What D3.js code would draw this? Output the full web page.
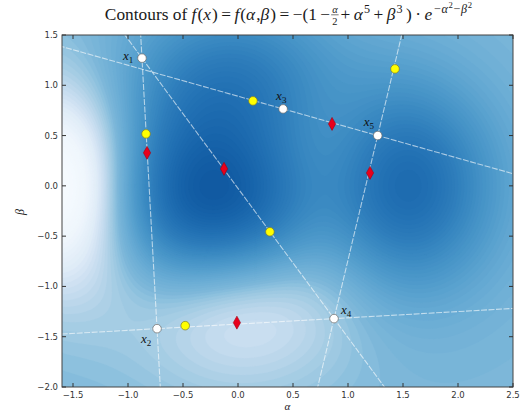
<!DOCTYPE html>
<html><head><meta charset="utf-8">
<script src="https://cdn.jsdelivr.net/npm/d3@7"></script>
<style>body{margin:0;background:#fff} text{white-space:pre}</style></head><body>
<svg id="c" width="524" height="414"></svg>
<script>
// ---- data ----
const xTicks = [-1.5, -1.0, -0.5, 0.0, 0.5, 1.0, 1.5, 2.0, 2.5];
const yTicks = [-2.0, -1.5, -1.0, -0.5, 0.0, 0.5, 1.0, 1.5];
const pointNames = ["1", "2", "3", "4", "5"];
const pointAlpha = [-0.873, -0.736, 0.41, 0.873, 1.27];
const pointBeta  = [1.27, -1.42, 0.765, -1.32, 0.50];
const yellowAlpha = [0.136, -0.836, 1.427, 0.29, -0.48];
const yellowBeta  = [0.845, 0.517, 1.163, -0.457, -1.39];
const redAlpha = [-0.827, -0.127, 0.855, 1.2, -0.01];
const redBeta  = [0.328, 0.169, 0.616, 0.129, -1.36];
const lineFrom = [0, 0, 1, 2, 3];
const lineTo   = [1, 3, 3, 4, 4];
const levelValues = [-1.05, -0.6, -0.28, 0.0, 0.15, 0.25, 0.35, 0.5, 0.7];
const levelShades = [0.84, 0.70, 0.58, 0.46, 0.33, 0.23, 0.12, 0.04, 0.0];
// the function named in the title
function f(a, b) { return -(1 - a / 2 + Math.pow(a, 5) + Math.pow(b, 3)) * Math.exp(-a * a - b * b); }

// ---- layout ----
const W = 524, H = 414;
const m = {l: 62, r: 11, t: 35, b: 27};
const svg = d3.select("#c");
const x = d3.scaleLinear().domain([-1.6, 2.5]).range([m.l, W - m.r]);
const y = d3.scaleLinear().domain([-2.0, 1.5]).range([H - m.b, m.t]);
const pw = W - m.l - m.r, ph = H - m.t - m.b;

svg.append("defs").append("clipPath").attr("id", "clip")
  .append("rect").attr("x", m.l).attr("y", m.t).attr("width", pw).attr("height", ph);

// ---- contour field ----
const nx = Math.round(pw / 2), ny = Math.round(ph / 2);
const dx = (x.domain()[1] - x.domain()[0]) / nx, dy = (y.domain()[1] - y.domain()[0]) / ny;
const vals = new Float64Array(nx * ny);
for (let j = 0; j < ny; j++) for (let i = 0; i < nx; i++) {
  const a = x.domain()[0] + (i + 0.5) * dx;
  const b = y.domain()[1] - (j + 0.5) * dy;
  vals[j * nx + i] = f(a, b);
}
const shade = d3.scaleLinear().domain(levelValues).range(levelShades).clamp(true);
const color = v => d3.interpolateBlues(shade(v));
const thresholds = d3.range(-1.06, 0.72, 0.025);
const contours = d3.contours().size([nx, ny]).thresholds(thresholds)(vals);
const proj = d3.geoTransform({point: function(px, py) { this.stream.point(m.l + px * pw / nx, m.t + py * ph / ny); }});
const path = d3.geoPath(proj);
const gC = svg.append("g").attr("clip-path", "url(#clip)");
gC.append("rect").attr("x", m.l).attr("y", m.t).attr("width", pw).attr("height", ph).attr("fill", color(-1.06));
gC.selectAll("path.c").data(contours).join("path").attr("class", "c")
  .attr("d", path).attr("fill", d => color(d.value + 0.0125)).attr("stroke", d => color(d.value + 0.0125)).attr("stroke-width", 0.3);

// ---- lines through point pairs ----
const gL = svg.append("g").attr("clip-path", "url(#clip)");
lineFrom.forEach((p, k) => {
  const q = lineTo[k];
  const a0 = pointAlpha[p], b0 = pointBeta[p], a1 = pointAlpha[q], b1 = pointBeta[q];
  const T = 20;
  gL.append("line")
    .attr("x1", x(a0 - T * (a1 - a0))).attr("y1", y(b0 - T * (b1 - b0)))
    .attr("x2", x(a0 + T * (a1 - a0))).attr("y2", y(b0 + T * (b1 - b0)))
    .attr("stroke", "#fff").attr("stroke-opacity", 0.6).attr("stroke-width", 1.1)
    .attr("stroke-dasharray", "6,1.5");
});

// ---- markers ----
const gM = svg.append("g");
yellowAlpha.forEach((a, i) => {
  gM.append("circle").attr("cx", x(a)).attr("cy", y(yellowBeta[i])).attr("r", 4.3)
    .attr("fill", "#ffff00").attr("stroke", "#7a7a30").attr("stroke-width", 0.7);
});
redAlpha.forEach((a, i) => {
  const cx = x(a), cy = y(redBeta[i]);
  gM.append("path").attr("d", `M${cx},${cy - 6.5}L${cx + 3.6},${cy}L${cx},${cy + 6.5}L${cx - 3.6},${cy}Z`)
    .attr("fill", "#e8001c").attr("stroke", "#a00010").attr("stroke-width", 0.6);
});
pointAlpha.forEach((a, i) => {
  gM.append("circle").attr("cx", x(a)).attr("cy", y(pointBeta[i])).attr("r", 4.3)
    .attr("fill", "#fff").attr("stroke", "#666").attr("stroke-width", 0.7);
});

// labels of the points (pixel offsets)
const labelPos = [[-19, 2], [-16, 14], [-7, -9], [7, -5], [-14, -10]];
pointAlpha.forEach((a, i) => {
  const t = gM.append("text").attr("x", x(a) + labelPos[i][0]).attr("y", y(pointBeta[i]) + labelPos[i][1])
    .attr("font-family", "Liberation Serif, serif").attr("font-size", 13).attr("fill", "#111");
  t.append("tspan").attr("font-style", "italic").text("x");
  t.append("tspan").attr("font-size", 9).attr("dy", 3).text(pointNames[i]);
});

// ---- frame & ticks ----
const gA = svg.append("g");
gA.append("rect").attr("x", m.l).attr("y", m.t).attr("width", pw).attr("height", ph)
  .attr("fill", "none").attr("stroke", "#444").attr("stroke-width", 1);
const tl = 4;
xTicks.forEach(v => {
  gA.append("line").attr("x1", x(v)).attr("x2", x(v)).attr("y1", H - m.b).attr("y2", H - m.b - tl).attr("stroke", "#333");
  gA.append("line").attr("x1", x(v)).attr("x2", x(v)).attr("y1", m.t).attr("y2", m.t + tl).attr("stroke", "#333");
  gA.append("text").attr("x", x(v)).attr("y", H - m.b + 11).attr("text-anchor", "middle")
    .attr("font-family", "DejaVu Sans, sans-serif").attr("font-size", 8.5).attr("fill", "#333")
    .text(d3.format(".1f")(v).replace("-", "\u2212"));
});
yTicks.forEach(v => {
  gA.append("line").attr("x1", m.l).attr("x2", m.l + tl).attr("y1", y(v)).attr("y2", y(v)).attr("stroke", "#333");
  gA.append("line").attr("x1", W - m.r).attr("x2", W - m.r - tl).attr("y1", y(v)).attr("y2", y(v)).attr("stroke", "#333");
  gA.append("text").attr("x", m.l - 4).attr("y", y(v) + 3).attr("text-anchor", "end")
    .attr("font-family", "DejaVu Sans, sans-serif").attr("font-size", 8.5).attr("fill", "#333")
    .text(d3.format(".1f")(v).replace("-", "\u2212"));
});
svg.append("text").attr("x", (m.l + W - m.r) / 2).attr("y", 410).attr("text-anchor", "middle")
  .attr("font-family", "Liberation Serif, serif").attr("font-style", "italic").attr("font-size", 11).attr("fill", "#222").text("α");
svg.append("text").attr("transform", `translate(24,${(m.t + H - m.b) / 2 + 1}) rotate(-90)`).attr("text-anchor", "middle")
  .attr("font-family", "Liberation Serif, serif").attr("font-style", "italic").attr("font-size", 12).attr("fill", "#222").text("β");

// ---- title (math layout) ----
const pieces = [
  {t: "Contours of "}, {t: "f", i: 1}, {t: "("}, {t: "x", i: 1}, {t: ")\u2009=\u2009"}, {t: "f", i: 1}, {t: "("}, {t: "α", i: 1}, {t: ","},
  {t: "β", i: 1}, {t: ")\u2009=\u2009−(1\u2009−"}, {frac: ["α", "2"]}, {t: "+\u2009"}, {t: "α", i: 1}, {t: "5", s: 1}, {t: "\u2009+\u2009"},
  {t: "β", i: 1}, {t: "3", s: 1}, {t: "\u2009)\u2009·\u2009"}, {t: "e", i: 1}, {t: "−α", s: 1, i: 1}, {t: "2", s: 2}, {t: "−β", s: 1, i: 1}, {t: "2", s: 2}
];
function drawTitle(fs) {
  const g = svg.append("g");
  let cx = 0;
  const mk = (txt, size, it, xx, yy, anchor) => g.append("text").attr("x", xx).attr("y", yy)
    .attr("font-family", "Liberation Serif, serif").attr("font-size", size).attr("fill", "#1a1a1a")
    .attr("font-style", it ? "italic" : "normal").attr("text-anchor", anchor || "start").text(txt);
  pieces.forEach(p => {
    if (p.frac) {
      const s = fs * 0.6;
      const n = mk(p.frac[0], s, 1, 0, -fs * 0.42, "middle");
      const d = mk(p.frac[1], s, 0, 0, fs * 0.28, "middle");
      const w = Math.max(n.node().getComputedTextLength(), d.node().getComputedTextLength()) + 2;
      n.attr("x", cx + w / 2 + 1); d.attr("x", cx + w / 2 + 1);
      g.append("line").attr("x1", cx + 1).attr("x2", cx + w + 1).attr("y1", -fs * 0.3).attr("y2", -fs * 0.3).attr("stroke", "#1a1a1a").attr("stroke-width", 0.6);
      cx += w + 3;
    } else {
      const size = p.s === 1 ? fs * 0.7 : p.s === 2 ? fs * 0.5 : fs;
      const yy = p.s === 1 ? -fs * 0.42 : p.s === 2 ? -fs * 0.7 : 0;
      const e = mk(p.t, size, p.i, cx, yy);
      cx += e.node().getComputedTextLength() + (p.i ? size * 0.06 : 0);
    }
  });
  return {g, w: cx};
}
let tt = drawTitle(13);
const fs = 13 * 369 / tt.w;
tt.g.remove();
tt = drawTitle(fs);
tt.g.attr("transform", `translate(${288.5 - tt.w / 2},20)`);
</script></body></html>
